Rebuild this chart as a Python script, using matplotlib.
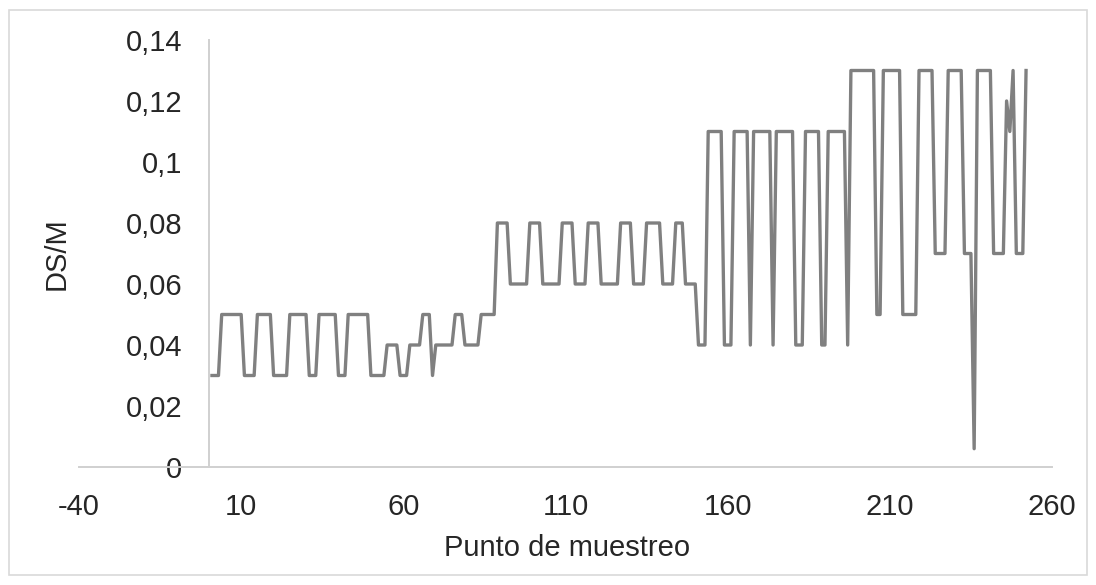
import matplotlib
matplotlib.use("Agg")
import matplotlib.pyplot as plt
import numpy as np
from matplotlib.patches import Rectangle

ds_m_levels = [
    0.03, 0.05, 0.03, 0.05, 0.03, 0.05, 0.03, 0.05, 0.03, 0.05,
    0.03, 0.04, 0.03, 0.04, 0.05, 0.03, 0.04, 0.05, 0.04, 0.05,
    0.08, 0.06, 0.08, 0.06, 0.08, 0.06, 0.08, 0.06, 0.08, 0.06,
    0.08, 0.06, 0.08, 0.06, 0.04,
    0.11, 0.04, 0.11, 0.04, 0.11, 0.04, 0.11, 0.04, 0.11, 0.04, 0.11, 0.04,
    0.13, 0.05, 0.13, 0.05, 0.13, 0.07, 0.13, 0.07, 0.006, 0.13, 0.07,
    0.12, 0.11, 0.13, 0.07, 0.13,
]
run_lengths = [
    3, 7, 4, 5, 5, 6, 3, 6, 3, 7,
    5, 4, 3, 4, 3, 1, 6, 3, 5, 5,
    4, 6, 4, 6, 4, 4, 4, 6, 4, 4,
    5, 4, 3, 4, 3,
    5, 3, 5, 1, 6, 1, 6, 3, 5, 2, 6, 1,
    8, 2, 6, 5, 5, 4, 5, 3, 1, 5, 4,
    1, 1, 1, 3, 1,
]

x_ticks = [-40, 10, 60, 110, 160, 210, 260]
y_ticks = [0, 0.02, 0.04, 0.06, 0.08, 0.1, 0.12, 0.14]
y_tick_labels = ["0", "0,02", "0,04", "0,06", "0,08", "0,1", "0,12", "0,14"]

ds_m = np.repeat(ds_m_levels, run_lengths)
sample = np.arange(1, len(ds_m) + 1)

plt.rcParams["font.family"] = ["Liberation Sans", "DejaVu Sans"]
plt.rcParams["axes.unicode_minus"] = False

fig = plt.figure(figsize=(10.96, 5.85), dpi=100)
ax = fig.add_axes([79 / 1096, 118 / 585, 973 / 1096, 427 / 585])

ax.plot(sample, ds_m, color="#808080", lw=2.4)

ax.set_xlim(-40, 260)
ax.set_ylim(0, 0.14)
ax.set_xticks(x_ticks)
ax.set_yticks(y_ticks)
ax.set_yticklabels(y_tick_labels)

for side in ("top", "right"):
    ax.spines[side].set_visible(False)
ax.spines["left"].set_position(("data", 0))
for side in ("left", "bottom"):
    ax.spines[side].set_color("#d0d0d0")
    ax.spines[side].set_linewidth(1.4)

ax.tick_params(axis="both", length=0, labelsize=21, colors="#262626")
ax.tick_params(axis="y", pad=19)
ax.tick_params(axis="x", pad=19)

ax.set_xlabel("Punto de muestreo", fontsize=21, color="#262626")
ax.set_ylabel("DS/M", fontsize=21, color="#262626")
ax.xaxis.set_label_coords(0.502, -0.158)
ax.yaxis.set_label_coords(-0.009, 0.5)

# light chart-area border
fig.add_artist(Rectangle((9 / 1096, 10 / 585), 1078 / 1096, 565 / 585,
                         transform=fig.transFigure, fill=False,
                         edgecolor="#d9d9d9", lw=1.2))

fig.savefig("out.png", dpi=100)
